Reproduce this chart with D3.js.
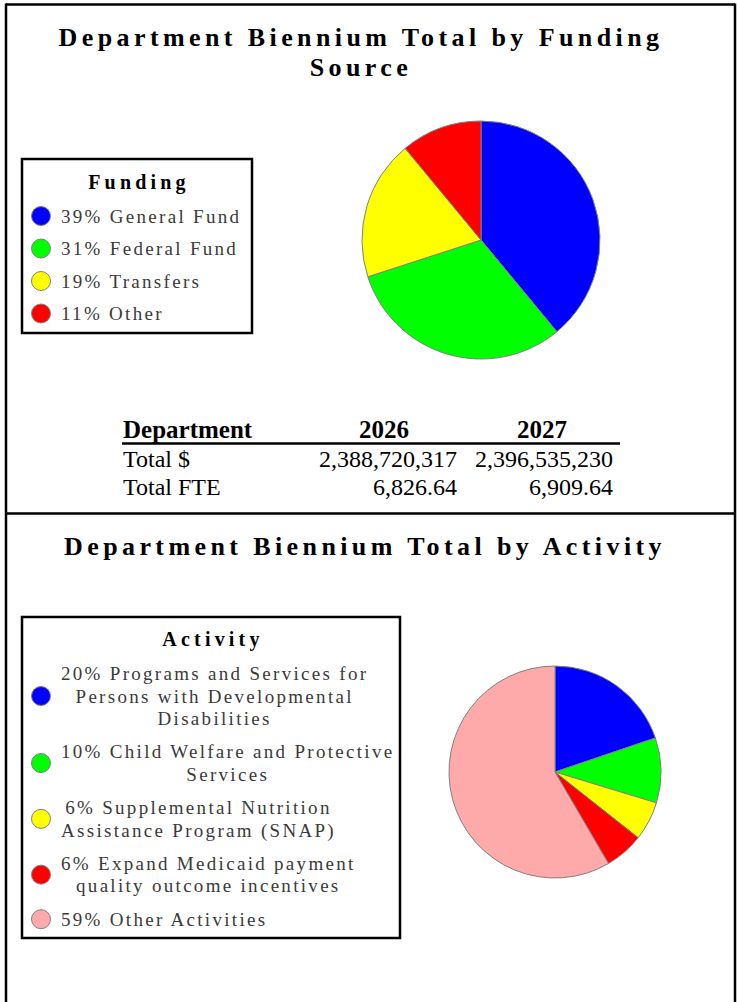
<!DOCTYPE html>
<html>
<head>
<meta charset="utf-8">
<script src="https://cdn.jsdelivr.net/npm/d3@7"></script>
<style>
  html, body { margin: 0; padding: 0; background: #fff; }
  svg { display: block; }
  text { font-family: "Liberation Serif", "Times New Roman", serif; }
</style>
</head>
<body>
<svg id="chart" width="737" height="1002"></svg>
<script>
// ---- Funding source breakdown ----
const fundingNames = ["General Fund", "Federal Fund", "Transfers", "Other"];
const fundingPct = [39, 31, 19, 11];
const fundingColors = ["#0000ff", "#00ff00", "#ffff00", "#ff0000"];

// ---- Activity breakdown ----
const activityNames = [
  "Programs and Services for Persons with Developmental Disabilities",
  "Child Welfare and Protective Services",
  "Supplemental Nutrition Assistance Program (SNAP)",
  "Expand Medicaid payment quality outcome incentives",
  "Other Activities"
];
const activityPct = [20, 10, 6, 6, 59];
const activityColors = ["#0000ff", "#00ff00", "#ffff00", "#ff0000", "#ffaaaa"];

// ---- Totals table ----
const tableHeader = ["Department", "2026", "2027"];
const rowLabels = ["Total $", "Total FTE"];
const values2026 = ["2,388,720,317", "6,826.64"];
const values2027 = ["2,396,535,230", "6,909.64"];

const svg = d3.select("#chart");

// Page frame and section divider
const frame = svg.append("g").attr("stroke", "#000").attr("stroke-width", 2.5);
frame.append("line").attr("x1", 6).attr("x2", 735).attr("y1", 4.5).attr("y2", 4.5);
frame.append("line").attr("x1", 6).attr("x2", 6).attr("y1", 3.5).attr("y2", 1002);
frame.append("line").attr("x1", 735).attr("x2", 735).attr("y1", 3.5).attr("y2", 1002);
frame.append("line").attr("x1", 6).attr("x2", 735).attr("y1", 513.5).attr("y2", 513.5);

// Section titles
function title(lines, x, y0, step) {
  const t = svg.append("text")
    .attr("text-anchor", "middle")
    .attr("font-weight", "bold")
    .attr("font-size", 26)
    .attr("letter-spacing", 4.4)
    .attr("fill", "#000");
  lines.forEach((s, i) => {
    t.append("tspan").attr("x", x).attr("y", y0 + i * step).text(s);
  });
}
title(["Department Biennium Total by Funding", "Source"], 361, 46, 30);
title(["Department Biennium Total by Activity"], 365, 555, 30);

// Pie chart helper
function drawPie(values, colors, cx, cy, r) {
  const pie = d3.pie().sort(null).value(d => d);
  const arc = d3.arc().innerRadius(0).outerRadius(r);
  svg.append("g")
    .attr("transform", `translate(${cx},${cy})`)
    .selectAll("path")
    .data(pie(values))
    .join("path")
    .attr("d", arc)
    .attr("fill", (d, i) => colors[i])
    .attr("stroke", "#808080")
    .attr("stroke-width", 1);
}
drawPie(fundingPct, fundingColors, 481, 240, 119);
drawPie(activityPct, activityColors, 555, 772, 106);

// Legend helper: items may wrap onto several centred lines
function drawLegend(opts) {
  const g = svg.append("g");
  g.append("rect")
    .attr("x", opts.x).attr("y", opts.y)
    .attr("width", opts.w).attr("height", opts.h)
    .attr("fill", "#fff").attr("stroke", "#000").attr("stroke-width", 2.5);
  g.append("text")
    .attr("x", opts.titleX).attr("y", opts.titleY)
    .attr("text-anchor", "middle")
    .attr("font-weight", "bold")
    .attr("font-size", 20)
    .attr("letter-spacing", 4.2)
    .attr("fill", "#000")
    .text(opts.title);

  let y = opts.firstBaseline;
  opts.labels.forEach((label, i) => {
    const t = g.append("text")
      .attr("font-size", 19)
      .attr("letter-spacing", 2.3)
      .attr("fill", "#3a3a3a");
    // greedy word wrap measured in the rendered font
    const words = label.split(" ");
    const lines = [];
    let cur = "";
    const probe = t.append("tspan");
    words.forEach(w => {
      const test = cur ? cur + " " + w : w;
      probe.text(test);
      if (cur && probe.node().getComputedTextLength() > opts.wrap) {
        lines.push(cur);
        cur = w;
      } else {
        cur = test;
      }
    });
    lines.push(cur);
    const widths = lines.map(s => { probe.text(s); return probe.node().getComputedTextLength(); });
    probe.remove();
    const maxW = d3.max(widths);
    lines.forEach((s, j) => {
      t.append("tspan")
        .attr("x", opts.textX + (maxW - widths[j]) / 2)
        .attr("y", y + j * opts.lineStep)
        .text(s);
    });
    const mid = y + (lines.length - 1) * opts.lineStep / 2 - 6.5;
    g.append("circle")
      .attr("cx", opts.dotX).attr("cy", mid).attr("r", 9.5)
      .attr("fill", opts.colors[i])
      .attr("stroke", "#808080").attr("stroke-width", 1);
    y += (lines.length - 1) * opts.lineStep + opts.itemStep;
  });
}

drawLegend({
  x: 22, y: 159, w: 230, h: 174,
  title: "Funding", titleX: 139, titleY: 189,
  labels: fundingNames.map((n, i) => `${fundingPct[i]}% ${n}`),
  colors: fundingColors,
  textX: 61, dotX: 41, firstBaseline: 222.5,
  lineStep: 22.5, itemStep: 32.5, wrap: 400
});

drawLegend({
  x: 22, y: 617, w: 378, h: 321,
  title: "Activity", titleX: 213, titleY: 646,
  labels: activityNames.map((n, i) => `${activityPct[i]}% ${n}`),
  colors: activityColors,
  textX: 61, dotX: 41, firstBaseline: 680,
  lineStep: 22.5, itemStep: 33.3, wrap: 335
});

// Totals table
const table = svg.append("g").attr("font-size", 24).attr("fill", "#000");
const colLeft = 123, col2026Center = 384, col2027Center = 542;
const col2026Right = 457, col2027Right = 613;
const headerY = 438, rowY0 = 467, rowStep = 28;

table.append("text").attr("x", colLeft).attr("y", headerY)
  .attr("font-weight", "bold").attr("font-size", 25).text(tableHeader[0]);
table.append("text").attr("x", col2026Center).attr("y", headerY)
  .attr("text-anchor", "middle").attr("font-weight", "bold").attr("font-size", 25).text(tableHeader[1]);
table.append("text").attr("x", col2027Center).attr("y", headerY)
  .attr("text-anchor", "middle").attr("font-weight", "bold").attr("font-size", 25).text(tableHeader[2]);
table.append("line").attr("x1", 122).attr("x2", 620)
  .attr("y1", 443.5).attr("y2", 443.5)
  .attr("stroke", "#000").attr("stroke-width", 2.5);

rowLabels.forEach((lab, i) => {
  const y = rowY0 + i * rowStep;
  table.append("text").attr("x", colLeft).attr("y", y).text(lab);
  table.append("text").attr("x", col2026Right).attr("y", y)
    .attr("text-anchor", "end").text(values2026[i]);
  table.append("text").attr("x", col2027Right).attr("y", y)
    .attr("text-anchor", "end").text(values2027[i]);
});
</script>
</body>
</html>
